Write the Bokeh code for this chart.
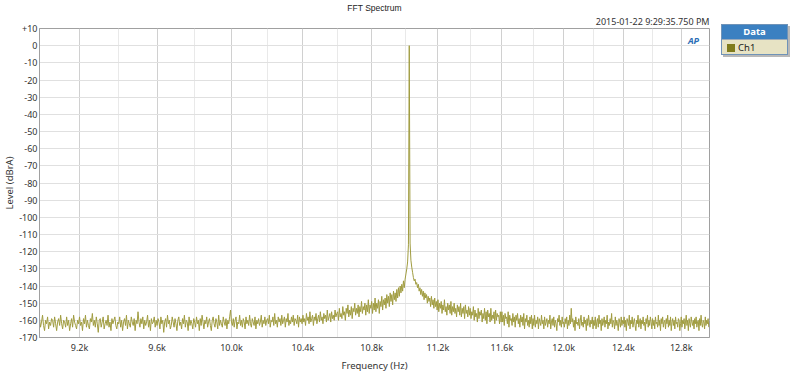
import numpy as np
from bokeh.plotting import figure
from bokeh.models import Range1d, FixedTicker, Label, Div, ColumnDataSource, Title, BasicTickFormatter
from bokeh.layouts import row
from bokeh.embed import file_html
from bokeh.resources import INLINE

title_text = "FFT Spectrum"
timestamp_text = "2015-01-22 9:29:35.750 PM"
x_label = "Frequency (Hz)"
y_label = "Level (dBrA)"
series_name = "Ch1"
legend_title = "Data"

x_ticks = [9200, 9600, 10000, 10400, 10800, 11200, 11600, 12000, 12400, 12800]
x_tick_labels = ["9.2k", "9.6k", "10.0k", "10.4k", "10.8k", "11.2k", "11.6k", "12.0k", "12.4k", "12.8k"]
x_minor_grid = [9400, 9800, 10200, 10600, 11000, 11400, 11800, 12200, 12600]
y_ticks = [-170, -160, -150, -140, -130, -120, -110, -100, -90, -80, -70, -60, -50, -40, -30, -20, -10, 0, 10]
y_tick_labels = ["-170", "-160", "-150", "-140", "-130", "-120", "-110", "-100", "-90", "-80",
                 "-70", "-60", "-50", "-40", "-30", "-20", "-10", "0", "+10"]

# FFT bins: first bin frequency and bin spacing (Hz)
bin_start_hz = 9000
bin_step_hz = 5
# Ch1 level (dBrA), one value per bin (two lines = 200 Hz)
level_dbra = [
    -159, -164, -161, -157, -163, -166, -160, -162, -158, -165, -161, -163, -159, -160, -164, -158, -162, -166, -161, -159,
    -163, -157, -162, -165, -160, -161, -164, -158, -163, -160, -166, -162, -159, -164, -157, -161, -163, -165, -160, -162,
    -158, -163, -161, -166, -159, -162, -157, -164, -160, -163, -165, -159, -161, -156, -163, -160, -164, -158, -162, -167,
    -160, -159, -164, -161, -158, -165, -162, -160, -163, -157, -164, -161, -166, -159, -162, -160, -158, -163, -165, -161,
    -162, -158, -164, -160, -166, -161, -159, -163, -157, -165, -160, -162, -164, -158, -161, -163, -159, -166, -160, -162,
    -155, -161, -164, -159, -162, -158, -165, -160, -163, -161, -157, -164, -160, -166, -159, -162, -161, -158, -164, -160,
    -163, -159, -161, -165, -158, -162, -160, -167, -161, -159, -164, -157, -162, -160, -165, -163, -158, -161, -164, -159,
    -162, -166, -160, -158, -163, -161, -165, -159, -162, -157, -164, -160, -161, -166, -158, -163, -160, -162, -165, -159,
    -161, -164, -158, -162, -160, -166, -159, -163, -157, -161, -165, -160, -162, -158, -164, -161, -159, -163, -166, -160,
    -158, -162, -164, -159, -161, -165, -157, -163, -160, -162, -164, -158, -161, -163, -159, -165, -160, -162, -158, -154,
    -161, -163, -159, -164, -160, -158, -165, -161, -162, -157, -163, -160, -164, -159, -161, -165, -158, -162, -160, -163,
    -157, -162, -164, -159, -161, -163, -158, -165, -160, -162, -159, -163, -161, -157, -164, -160, -162, -158, -163, -160,
    -159, -162, -157, -164, -160, -161, -158, -163, -156, -162, -160, -164, -158, -161, -159, -163, -157, -162, -160, -158,
    -164, -159, -161, -156, -163, -160, -162, -158, -161, -157, -163, -159, -160, -162, -157, -164, -158, -161, -159, -162,
    -157, -161, -159, -163, -156, -160, -158, -162, -155, -161, -159, -157, -163, -158, -160, -156, -162, -159, -157, -161,
    -155, -160, -158, -162, -156, -159, -157, -161, -154, -160, -158, -156, -161, -155, -159, -157, -160, -154, -158, -156,
    -155, -160, -153, -158, -156, -159, -152, -157, -155, -160, -153, -156, -151, -158, -154, -157, -152, -159, -153, -155,
    -150, -157, -153, -156, -151, -158, -152, -155, -149, -156, -152, -154, -150, -157, -151, -155, -148, -156, -151, -153,
    -149, -156, -150, -154, -147, -155, -150, -153, -148, -156, -149, -152, -146, -154, -148, -151, -147, -153, -145, -150,
    -146, -152, -144, -149, -145, -151, -143, -148, -144, -149, -142, -147, -141, -146, -140, -144, -139, -143, -137, -141,
    -136, -133, -130, -126, -116, 0, -115, -125, -129, -132, -135, -137, -136, -139, -138, -141, -139, -143, -141, -145,
    -142, -146, -143, -148, -144, -147, -145, -150, -146, -149, -147, -152, -146, -151, -148, -153, -147, -152, -149, -154,
    -148, -155, -150, -153, -149, -156, -151, -154, -148, -155, -152, -157, -150, -154, -151, -156, -149, -157, -152, -155,
    -150, -156, -153, -158, -151, -155, -152, -157, -150, -158, -153, -156, -152, -159, -151, -156, -154, -158, -152, -157,
    -153, -159, -155, -157, -152, -160, -154, -158, -156, -161, -153, -159, -155, -157, -154, -161, -156, -159, -153, -160,
    -155, -162, -154, -158, -156, -161, -153, -160, -157, -159, -155, -162, -154, -160, -156, -158, -157, -162, -155, -161,
    -155, -161, -157, -163, -156, -159, -158, -162, -155, -164, -157, -160, -159, -163, -156, -161, -158, -164, -157, -160,
    -156, -162, -159, -164, -157, -161, -158, -163, -156, -165, -159, -161, -157, -163, -160, -164, -158, -162, -157, -165,
    -159, -163, -157, -164, -160, -162, -158, -165, -159, -161, -163, -157, -162, -160, -165, -158, -163, -161, -159, -164,
    -160, -162, -157, -165, -161, -159, -163, -158, -164, -160, -162, -166, -159, -161, -157, -163, -160, -164, -158, -162,
    -161, -164, -159, -162, -158, -165, -160, -163, -157, -162, -153, -161, -159, -164, -160, -166, -158, -162, -161, -163,
    -159, -165, -160, -157, -163, -161, -164, -158, -162, -160, -166, -159, -163, -157, -161, -164, -160, -162, -158, -165,
    -160, -163, -158, -165, -161, -159, -164, -157, -162, -160, -166, -159, -163, -161, -158, -164, -160, -162, -157, -165,
    -161, -163, -159, -162, -156, -164, -160, -161, -165, -158, -163, -160, -162, -166, -159, -161, -164, -158, -163, -160,
    -162, -158, -164, -160, -166, -159, -161, -163, -157, -165, -160, -162, -158, -164, -161, -159, -163, -166, -160, -162,
    -157, -164, -161, -159, -165, -160, -162, -158, -163, -161, -166, -159, -162, -157, -164, -160, -163, -158, -161, -165,
    -159, -163, -160, -165, -158, -162, -161, -164, -157, -163, -160, -166, -159, -162, -158, -164, -161, -160, -165, -159,
    -162, -157, -164, -160, -163, -158, -166, -161, -159, -163, -160, -165, -158, -162, -161, -164, -159, -160, -166, -162,
    -158, -164, -160, -162, -159, -165, -161, -157, -163, -160, -166, -159, -162, -164, -158, -161, -163, -160, -165, -159,
    -162, -158, -164, -161, -160, -166, -159, -163, -157, -162, -164, -160, -161, -165, -158, -163, -160, -162, -159, -164,
]
freq_hz = bin_start_hz + bin_step_hz * np.arange(len(level_dbra))

src = ColumnDataSource(data=dict(freq=freq_hz, level=level_dbra))

FONT = "Noto Sans"
TXT = "#333333"

p = figure(width=711, height=374, x_axis_type="log",
           x_range=Range1d(9000, 13000), y_range=Range1d(-170, 10),
           output_backend="svg", toolbar_location=None,
           min_border_left=0, min_border_right=2, min_border_top=0, min_border_bottom=0,
           background_fill_color="white", border_fill_color="white")

p.title.text = title_text
p.title.align = "center"
p.title.text_font = "Liberation Sans"
p.title.text_font_size = "8.5px"
p.title.text_font_style = "normal"
p.title.text_color = "#222222"
p.title.standoff = 0
p.title.text_line_height = 1.0

p.add_layout(Title(text=timestamp_text, align="right", text_font=FONT, text_font_size="9px",
                   text_font_style="normal", text_color=TXT, standoff=1, text_line_height=1.0), "above")

p.outline_line_color = "#a0a0a0"

# plain-text formatter so the log axis labels are not laid out as exponents
p.xaxis.formatter = BasicTickFormatter(use_scientific=False)
p.xaxis.ticker = FixedTicker(ticks=x_ticks, minor_ticks=x_minor_grid)
p.xaxis.major_label_overrides = dict(zip(x_ticks, x_tick_labels))
p.yaxis.ticker = FixedTicker(ticks=y_ticks)
p.yaxis.major_label_overrides = dict(zip(y_ticks, y_tick_labels))
p.xaxis.axis_label = x_label
p.yaxis.axis_label = y_label
for ax in (p.xaxis, p.yaxis):
    ax.axis_line_color = "#a0a0a0"
    ax.major_tick_line_color = None
    ax.minor_tick_line_color = None
    ax.major_tick_out = 0
    ax.major_tick_in = 0
    ax.minor_tick_out = 0
    ax.minor_tick_in = 0
    ax.major_label_text_font = FONT
    ax.major_label_text_font_size = "9px"
    ax.major_label_text_color = TXT
    ax.major_label_text_line_height = 1.0
    ax.axis_label_text_font = FONT
    ax.axis_label_text_font_size = "9.5px"
    ax.axis_label_text_font_style = "normal"
    ax.axis_label_text_color = TXT
    ax.axis_label_text_line_height = 1.0
p.yaxis.major_label_standoff = 2
p.yaxis.axis_label_standoff = 0
p.xaxis.major_label_standoff = 3
p.xaxis.axis_label_standoff = 2

p.xgrid.ticker = FixedTicker(ticks=x_ticks, minor_ticks=x_minor_grid)
p.xgrid.grid_line_color = "#d0d0d0"
p.xgrid.minor_grid_line_color = "#e9e9e9"
p.ygrid.ticker = FixedTicker(ticks=y_ticks)
p.ygrid.grid_line_color = "#e0e0e0"

p.line(x="freq", y="level", source=src, line_color="#a09c40", line_width=1)

p.add_layout(Label(x=13000, y=10, text="AP", text_align="center", text_baseline="middle",
                   x_offset=-16, y_offset=-12, text_font=FONT, text_font_size="9px",
                   text_font_style="bold italic", text_color="#2a6db5"))

legend_html = f"""
<div style="margin-top:19px;margin-left:5px;width:67px;border:1px solid #6f93b8;box-shadow:2px 2px 0 #b8b8b8;font-family:'Noto Sans';font-size:9.5px;">
  <div style="background:#3b80c1;color:#ffffff;font-weight:bold;text-align:center;height:14px;line-height:14px;">{legend_title}</div>
  <div style="background:#e7e3c4;color:#222222;height:15px;line-height:15px;padding-left:5px;border-top:1px solid #9aaabb;">
    <span style="display:inline-block;width:8px;height:8px;background:#7f7b1c;margin-right:3px;vertical-align:-1px;"></span>{series_name}
  </div>
</div>
"""
legend_div = Div(text=legend_html, width=73, height=374)

layout = row(p, legend_div)

open("out.html", "w").write(file_html(layout, INLINE))
